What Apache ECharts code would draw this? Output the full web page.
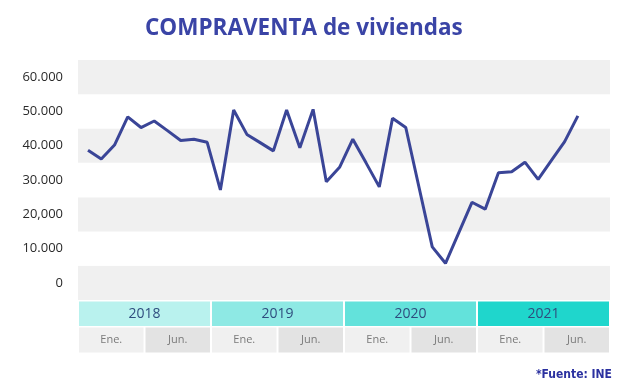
<!DOCTYPE html>
<html>
<head>
<meta charset="utf-8">
<script src="https://cdn.jsdelivr.net/npm/echarts@6/dist/echarts.min.js"></script>
<style>html,body{margin:0;padding:0;background:#fff}#c{width:626px;height:385px}</style>
</head>
<body>
<div id="c"></div>
<script>
// ---- data ----
const yTickLabels = ['0', '10.000', '20,000', '30.000', '40.000', '50.000', '60.000'];
const pointLabels = [
  'p01','p02','p03','p04','p05','p06','p07','p08','p09','p10',
  'p11','p12','p13','p14','p15','p16','p17','p18','p19','p20',
  'p21','p22','p23','p24','p25','p26','p27','p28','p29','p30',
  'p31','p32','p33','p34','p35','p36','p37','p38'
];
const sales = [
  38700, 36100, 40200, 48400, 45300, 47200, 44400, 41500, 41900, 41000,
  27100, 50400, 43300, 40900, 38500, 50400, 39400, 50600, 29500, 33700,
  41900, 35000, 28000, 48000, 45300, 27900, 10500, 5700, 14600, 23500,
  21500, 32100, 32400, 35200, 30200, 35700, 41200, 48700
];
const years = ['2018', '2019', '2020', '2021'];
const months = ['Ene.', 'Jun.', 'Ene.', 'Jun.', 'Ene.', 'Jun.', 'Ene.', 'Jun.'];

const yearColors = ['#b9f2ee', '#8ee9e4', '#63e2db', '#1fd6cc'];
const monthColors = ['#f0f0f0', '#e3e3e3'];

const chart = echarts.init(document.getElementById('c'), null, {renderer: 'canvas'});
const FONT = "'Open Sans', sans-serif";

chart.setOption({
  animation: false,
  backgroundColor: '#ffffff',
  title: [
    {
      text: 'COMPRAVENTA de viviendas',
      left: 140, top: 12,
      textStyle: {fontSize: 22.5, fontWeight: 'bold', color: '#3a44a6', fontFamily: FONT}
    },
    {
      text: '*Fuente: INE',
      right: 9, top: 364,
      textStyle: {fontSize: 12, fontWeight: 'bold', color: '#2b31a0', fontFamily: "'Liberation Sans Narrow', 'DejaVu Sans Condensed', sans-serif"}
    }
  ],
  grid: [
    {left: 78, right: 16, top: 60, height: 240},
    {left: 81.4, width: 503.1, top: 60, height: 240},
    {left: 78, right: 16, top: 301.5, height: 24.5},
    {left: 78, right: 16, top: 327.5, height: 25}
  ],
  xAxis: [
    {gridIndex: 0, type: 'value', min: 0, max: 1, show: false},
    {gridIndex: 1, type: 'category', data: pointLabels, boundaryGap: true, show: false},
    {gridIndex: 2, type: 'category', data: years, show: false},
    {gridIndex: 3, type: 'category', data: months, show: false}
  ],
  yAxis: [
    {
      gridIndex: 0, type: 'category', data: yTickLabels, boundaryGap: true,
      axisLine: {show: false}, axisTick: {show: false}, splitLine: {show: false},
      splitArea: {show: true, areaStyle: {color: ['#f0f0f0', '#ffffff']}},
      axisLabel: {color: '#2a2a2a', fontSize: 13, fontFamily: FONT, margin: 15}
    },
    {gridIndex: 1, type: 'value', min: -5000, max: 65000, show: false, splitLine: {show: false}},
    {gridIndex: 2, type: 'value', min: 0, max: 1, show: false},
    {gridIndex: 3, type: 'value', min: 0, max: 1, show: false}
  ],
  series: [
    {
      type: 'line', xAxisIndex: 1, yAxisIndex: 1, data: sales,
      symbol: 'none', lineStyle: {color: '#3a4597', width: 3}, itemStyle: {color: '#3a4597'},
      z: 5
    },
    {
      type: 'bar', xAxisIndex: 2, yAxisIndex: 2,
      data: years.map((y, i) => ({value: 1, itemStyle: {color: yearColors[i]}})),
      barCategoryGap: '1.5%',
      label: {show: true, position: 'inside', formatter: '{b}', color: '#2f4d7e', fontSize: 14, fontFamily: FONT}
    },
    {
      type: 'bar', xAxisIndex: 3, yAxisIndex: 3,
      data: months.map((m, i) => ({value: 1, itemStyle: {color: monthColors[i % 2]}})),
      barCategoryGap: '3%',
      label: {show: true, position: 'inside', formatter: '{b}', color: '#7a7a7a', fontSize: 11, fontFamily: FONT}
    }
  ]
});
</script>
</body>
</html>
